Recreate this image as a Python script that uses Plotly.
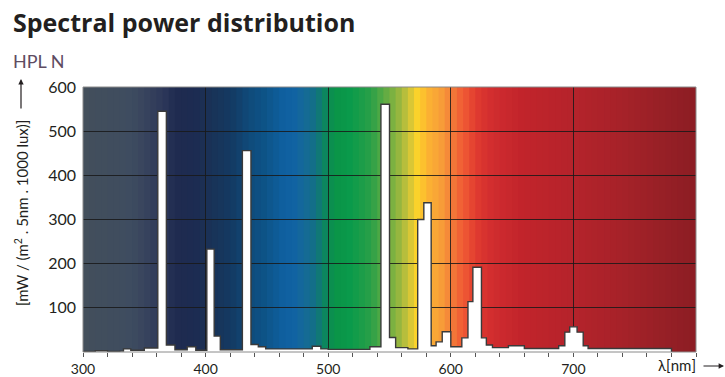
import plotly.graph_objects as go

# ---- data ----
wavelength_nm = [300, 310, 320, 330, 333, 339, 350, 361, 368, 375, 385, 392, 401, 407, 412,
                 430, 437, 443, 449, 487, 494, 500, 534, 543, 550, 555, 565, 573, 578, 584,
                 588, 593, 600, 609, 614, 618, 625, 629, 634, 647, 660, 688, 693, 697, 703,
                 708, 712, 780]
power = [1, 3, 1, 2, 7, 4, 9, 545, 16, 5, 12, 4, 233, 36, 5,
         456, 17, 12, 7, 13, 7, 6, 12, 561, 33, 10, 7, 300, 338, 14,
         23, 46, 12, 32, 114, 192, 32, 16, 10, 14, 8, 14, 45, 57, 45,
         14, 8, 0]
x_tick_vals = [300, 400, 500, 600, 700]
x_tick_text = ["300", "400", "500", "600", "700"]
y_tick_vals = [100, 200, 300, 400, 500, 600]
y_tick_text = ["100", "200", "300", "400", "500", "600"]

# ---- styling: spectral background colour stops ----
stops = [(300, '#434f5b'), (340, '#3e4c60'), (355, '#35405c'), (368, '#2a3558'), (375, '#1f2b50'),
         (390, '#1d2b51'), (400, '#1b3054'), (421, '#143a62'), (435, '#0f4a7a'), (449, '#0d5488'),
         (462, '#0f5f9e'), (471, '#1062a3'), (480, '#16699a'), (490, '#127083'), (497, '#0c8560'),
         (505, '#0a9447'), (518, '#0a9a4b'), (535, '#2aa048'), (545, '#58aa44'), (556, '#8cb440'),
         (565, '#c8c23a'), (573, '#fdd32a'), (581, '#fbb332'), (591, '#f8a138'), (600, '#f4813a'),
         (605, '#f26a36'), (612, '#ee5533'), (621, '#e03b30'), (630, '#d5302f'), (640, '#cc2a2e'),
         (659, '#c1242b'), (700, '#b5232b'), (740, '#a62229'), (770, '#982026'), (800, '#8c1d24')]


def hex2rgb(h):
    h = h.lstrip('#')
    return tuple(int(h[i:i + 2], 16) for i in (0, 2, 4))


def color_at(w):
    for (w0, c0), (w1, c1) in zip(stops[:-1], stops[1:]):
        if w0 <= w <= w1:
            t = (w - w0) / (w1 - w0)
            a, b = hex2rgb(c0), hex2rgb(c1)
            r = [round(a[i] + (b[i] - a[i]) * t) for i in range(3)]
            return 'rgb(%d,%d,%d)' % tuple(r)
    return stops[-1][1]


X0, X1 = 300, 800
Y0, Y1 = 0, 600
L, R, T, B = 83, 696, 87, 352
W, H = 725, 377


def px(xp):
    return (xp - L) / (R - L)


def py(yp):
    return (B - yp) / (B - T)


shapes = []
for w in range(X0, X1, 5):
    shapes.append(dict(type='rect', xref='x', yref='y', x0=w, x1=min(w + 6, X1), y0=Y0, y1=Y1,
                       fillcolor=color_at(w + 2.5), line=dict(width=0), layer='below'))
# frame
shapes.append(dict(type='rect', xref='paper', yref='paper', x0=0, x1=1, y0=0, y1=1,
                   line=dict(color='#8a8a8a', width=1), layer='above'))

fig = go.Figure()
fig.add_trace(go.Scatter(
    x=wavelength_nm, y=power, mode='lines', line_shape='hv',
    line=dict(color='#3a3a3a', width=1.4),
    fill='tozeroy', fillcolor='white', hoverinfo='skip', showlegend=False))

FONT = 'Lato'
annotations = [
    dict(text='<b>Spectral power distribution</b>', xref='paper', yref='paper',
         x=px(11), y=py(3), xanchor='left', yanchor='top', showarrow=False,
         font=dict(family='Open Sans', size=25, color='#231f20')),
    dict(text='HPL N', xref='paper', yref='paper',
         x=px(11), y=py(48), xanchor='left', yanchor='top', showarrow=False,
         font=dict(family=FONT, size=18, color='#5e4c62')),
    dict(text='[mW / (m<sup>2</sup> . 5nm . 1000 lux)]', xref='paper', yref='paper',
         x=px(21), y=py(213), xanchor='center', yanchor='middle', textangle=-90,
         showarrow=False, font=dict(family=FONT, size=15, color='#231f20')),
    dict(text='', xref='paper', yref='paper', x=px(21), y=py(79),
         ax=0, ay=31, axref='pixel', ayref='pixel', showarrow=True,
         arrowhead=2, arrowsize=0.9, arrowwidth=1.2, arrowcolor='#231f20'),
    dict(text='λ[nm]', xref='paper', yref='paper',
         x=px(698), y=py(365), xanchor='right', yanchor='middle', showarrow=False,
         font=dict(family=FONT, size=15, color='#231f20')),
    dict(text='', xref='paper', yref='paper', x=px(727), y=py(366),
         ax=-25, ay=0, axref='pixel', ayref='pixel', showarrow=True,
         arrowhead=2, arrowsize=0.9, arrowwidth=1.2, arrowcolor='#231f20'),
]

fig.update_layout(
    width=W, height=H,
    margin=dict(l=L, r=W - R, t=T, b=H - B, pad=0, autoexpand=False),
    paper_bgcolor='white', plot_bgcolor='white',
    font=dict(family=FONT, size=16, color='#231f20'),
    shapes=shapes, annotations=annotations,
    xaxis=dict(range=[X0, X1], tickmode='array', tickvals=x_tick_vals, ticktext=x_tick_text,
               showgrid=True, gridcolor='rgba(25,25,25,0.85)', gridwidth=1,
               ticks='outside', ticklen=4, tickcolor='#555555', tickwidth=1,
               ticklabelstandoff=0,
               minor=dict(dtick=20, tick0=300, ticks='outside', ticklen=4,
                          tickcolor='#555555', tickwidth=1, showgrid=False),
               showline=False, zeroline=False, fixedrange=True,
               tickfont=dict(family=FONT, size=14, color='#231f20')),
    yaxis=dict(range=[Y0, Y1], tickmode='array', tickvals=y_tick_vals, ticktext=y_tick_text,
               showgrid=True, gridcolor='rgba(25,25,25,0.85)', gridwidth=1,
               ticks='', ticklabelstandoff=6, showline=False, zeroline=False, fixedrange=True,
               tickfont=dict(family=FONT, size=16, color='#231f20')),
)

fig.write_html('out.html', config={'displayModeBar': False},
               post_script="document.body.style.margin='0';document.body.style.overflow='hidden';")
